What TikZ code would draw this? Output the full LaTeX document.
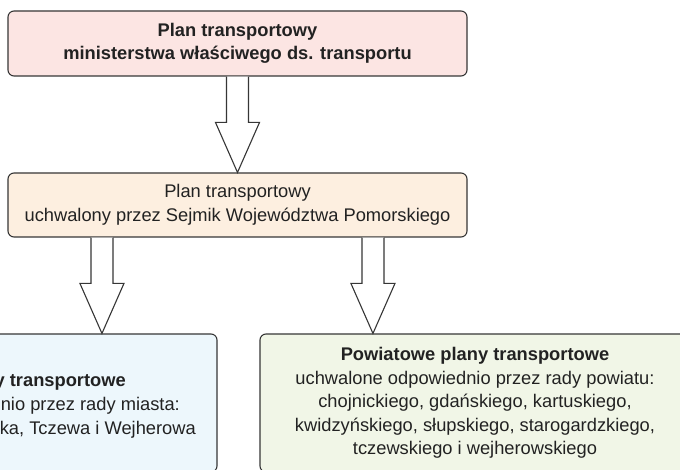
\documentclass[tikz,border=0pt]{standalone}
\usepackage{fontspec}
\setmainfont{Liberation Sans}
\usetikzlibrary{calc}
\definecolor{bordc}{HTML}{363636}
\definecolor{txtc}{HTML}{222222}
\definecolor{fillA}{HTML}{FCE5E3}
\definecolor{fillB}{HTML}{FDEFE0}
\definecolor{fillC}{HTML}{EDF7FC}
\definecolor{fillD}{HTML}{F1F6E7}
\tikzset{
  planbox/.style={draw=bordc, line width=1.1pt, rounded corners=6pt, inner sep=0pt, align=center,
    text=txtc, font=\fontsize{18.3}{23.5}\selectfont},
  frag/.style={text=txtc, font=\fontsize{18.3}{23.5}\selectfont, inner sep=0pt, anchor=base east},
  hollow/.style={draw=bordc, line width=1.1pt, fill=white, line join=miter}
}
\newcommand{\hollowarrow}[2]{%
  \draw[hollow] let \p1=(#1), \p2=(#2) in
    (\x1-11,\y1) -- (\x1-11,\y2+50) -- (\x1-22,\y2+50) -- (\x1,\y2)
    -- (\x1+22,\y2+50) -- (\x1+11,\y2+50) -- (\x1+11,\y1);}
\begin{document}
\begin{tikzpicture}[x=1pt,y=-1pt]
\useasboundingbox (0,0) rectangle (680,470);
\clip (0,0) rectangle (680,470);
\node[planbox, fill=fillA, minimum width=459pt, minimum height=65pt] (top) at (237.5,43.5)
  {\bfseries Plan transportowy\\\bfseries ministerstwa właściwego ds. transportu};
\node[planbox, fill=fillB, minimum width=459pt, minimum height=64pt] (mid) at (237.5,205)
  {Plan transportowy\\uchwalony przez Sejmik Województwa Pomorskiego};
\node[planbox, fill=fillC, minimum width=430pt, minimum height=138pt] (left) at (2,403) {};
\node[planbox, fill=fillD, minimum width=430pt, minimum height=138pt] (right) at (475,403)
  {\bfseries Powiatowe plany transportowe\\
   uchwalone odpowiednio przez rady powiatu:\\
   chojnickiego, gdańskiego, kartuskiego,\\
   kwidzyńskiego, słupskiego, starogardzkiego,\\
   tczewskiego i wejherowskiego};
\node[frag] (l1) at (126,386) {\bfseries y transportowe};
\node[frag] (l2) at (180,410) {nio przez rady miasta:};
\node[frag] (l3) at (196,434) {ka, Tczewa i Wejherowa};
% arrows
\coordinate (a1s) at (top.south);
\coordinate (a1e) at (mid.north);
\coordinate (a2s) at ($(mid.south west)+(94.5,0)$);
\coordinate (a2e) at (a2s |- left.north);
\coordinate (a3s) at ($(mid.south west)+(365.5,0)$);
\coordinate (a3e) at (a3s |- right.north);
\hollowarrow{a1s}{a1e}
\hollowarrow{a2s}{a2e}
\hollowarrow{a3s}{a3e}
\end{tikzpicture}
\end{document}
